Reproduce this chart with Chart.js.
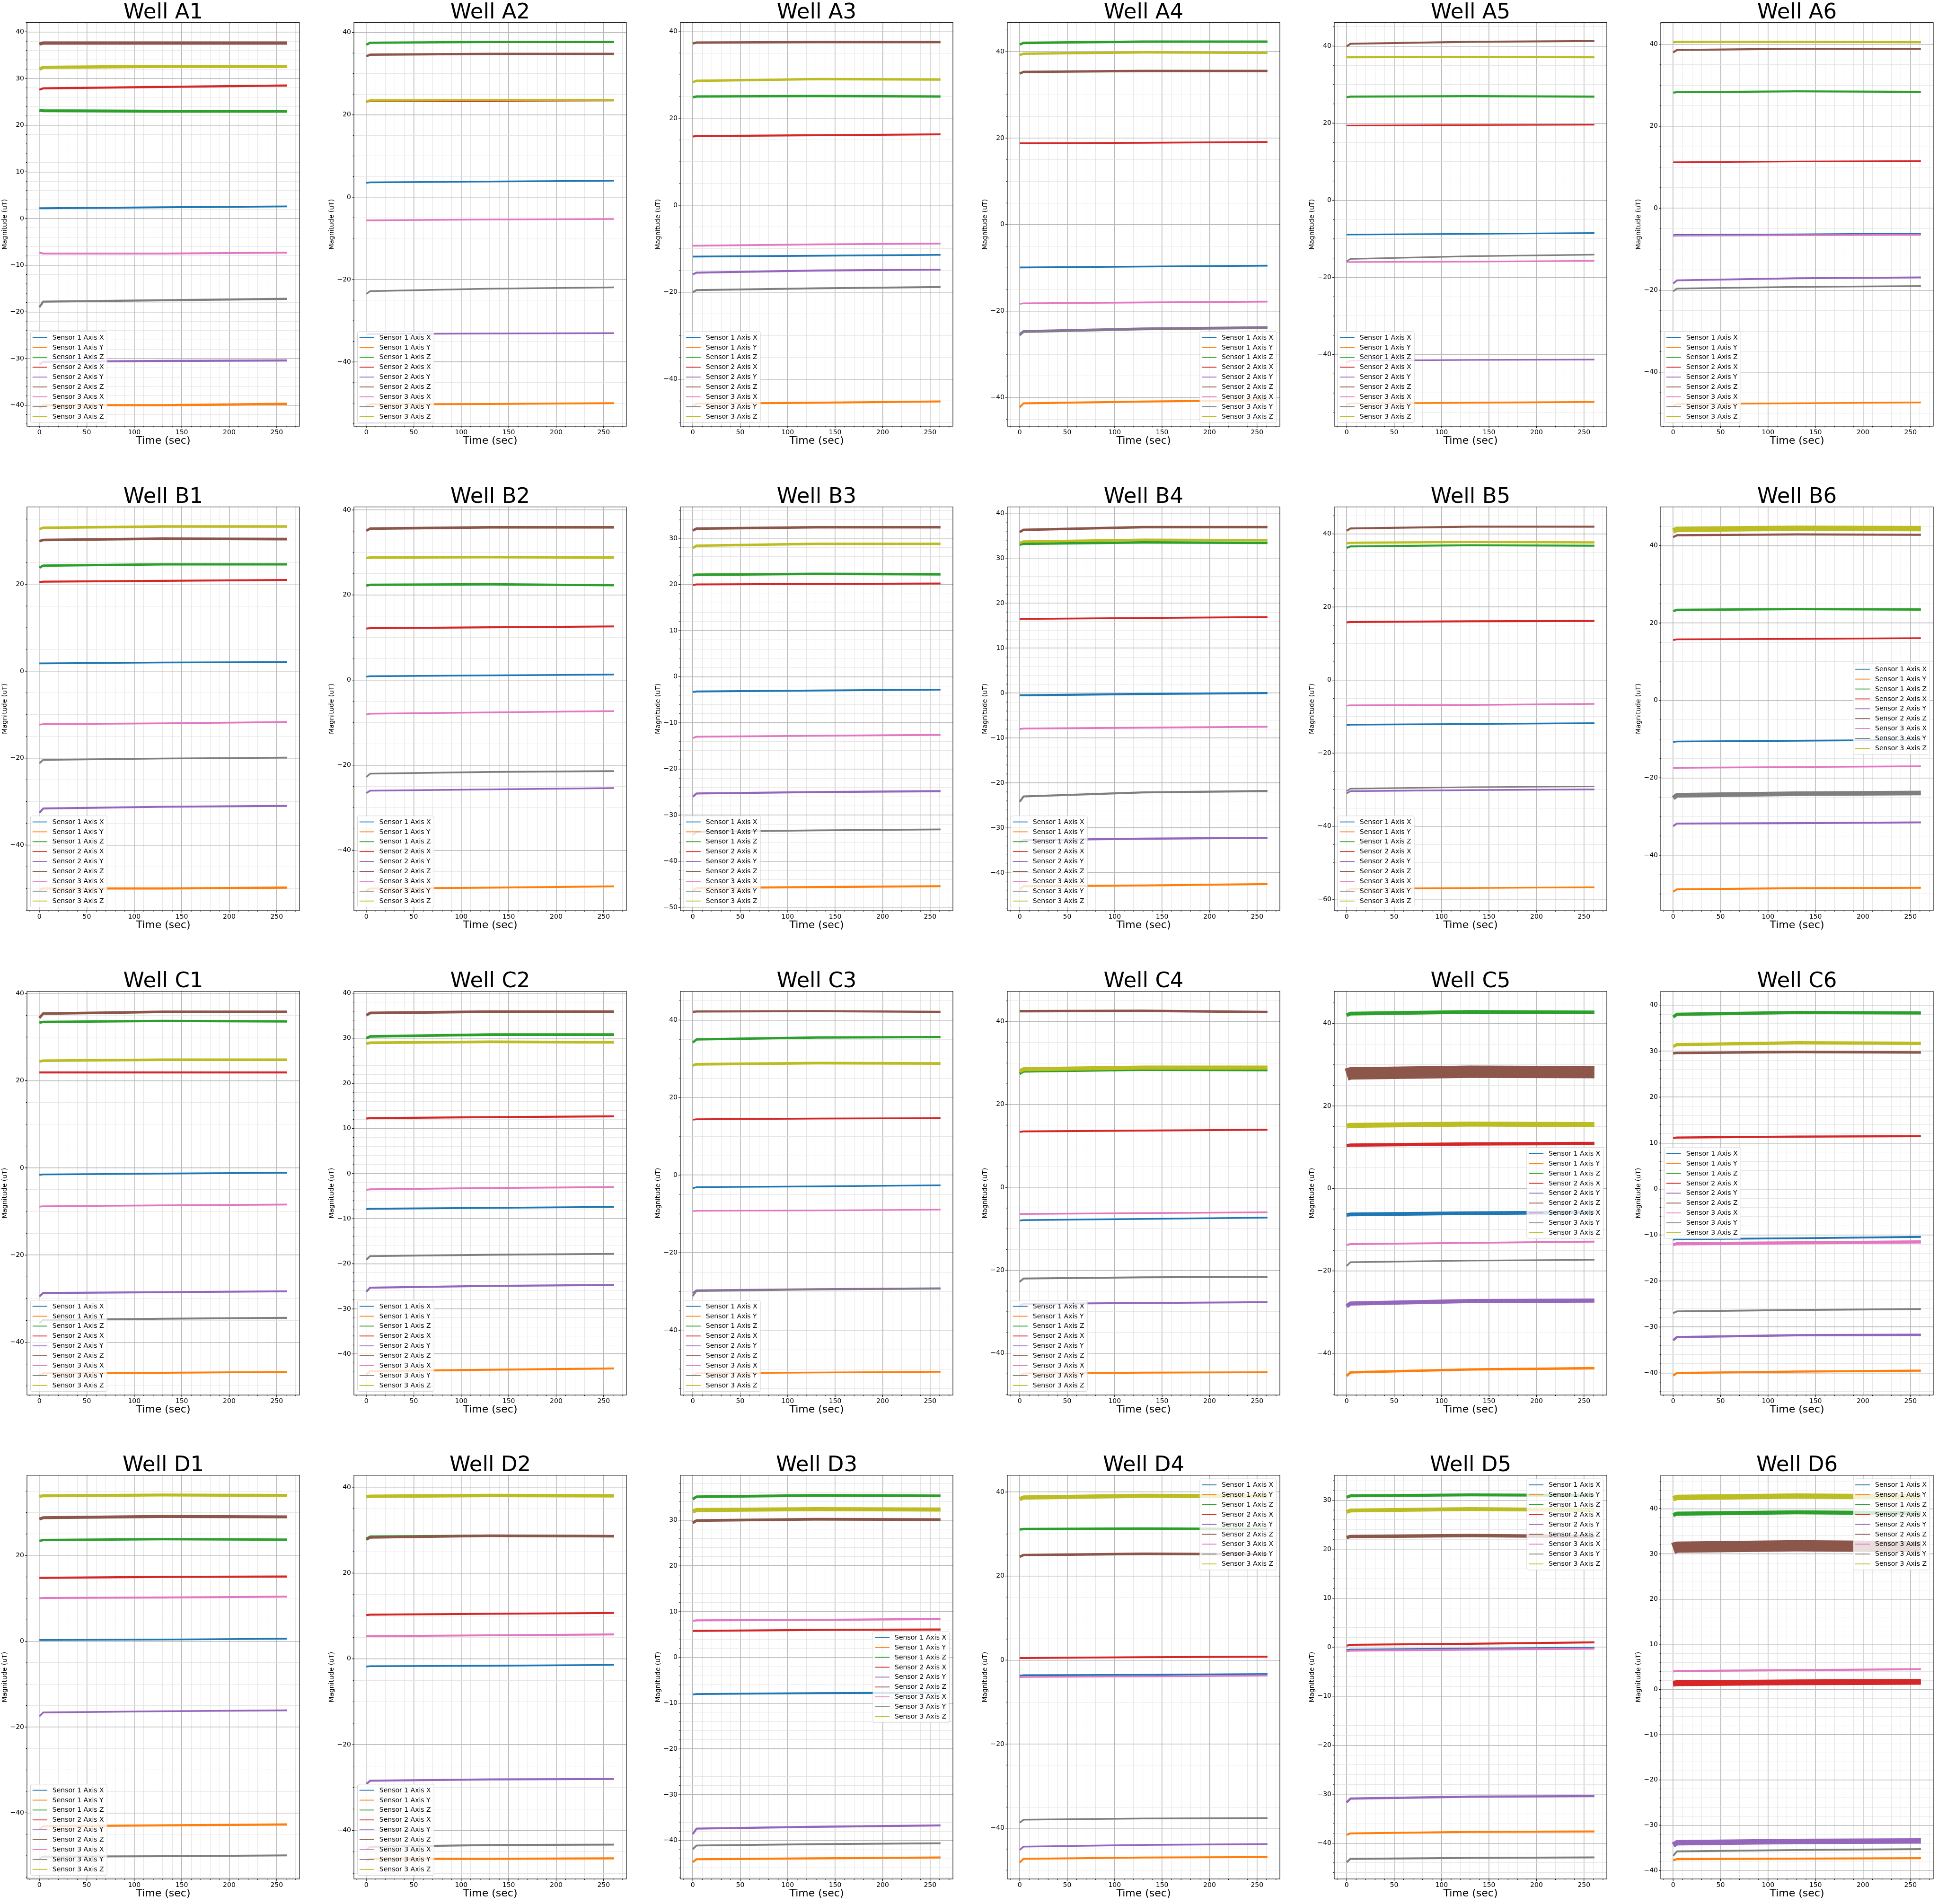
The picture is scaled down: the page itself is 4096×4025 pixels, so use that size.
<!DOCTYPE html>
<html><head><meta charset="utf-8">
<script src="https://cdn.jsdelivr.net/npm/chart.js@4.4.1/dist/chart.umd.min.js"></script>
<style>
html,body{margin:0;padding:0;background:#fff;}
body{width:4096px;height:4025px;position:relative;overflow:hidden;}
canvas{position:absolute;}
</style></head><body>
<script>
// ---------------- DATA ----------------
const seriesNames = ['Sensor 1 Axis X','Sensor 1 Axis Y','Sensor 1 Axis Z','Sensor 2 Axis X','Sensor 2 Axis Y','Sensor 2 Axis Z','Sensor 3 Axis X','Sensor 3 Axis Y','Sensor 3 Axis Z'];
const times = [0, 4, 130, 261];
const wellNames = ['A1','A2','A3','A4','A5','A6','B1','B2','B3','B4','B5','B6','C1','C2','C3','C4','C5','C6','D1','D2','D3','D4','D5','D6'];
const xTickLabels = [0, 50, 100, 150, 200, 250];

// magnitude (uT) at the times above; rows follow seriesNames
const A1 = [[2.2,2.2,2.4,2.6],[-40.6,-40.0,-40.0,-39.7],[23.2,23.1,23.0,23.0],[27.6,27.9,28.2,28.5],[-31.3,-30.7,-30.5,-30.4],[37.4,37.6,37.6,37.6],[-7.3,-7.5,-7.5,-7.3],[-19.0,-17.8,-17.5,-17.2],[32.0,32.4,32.6,32.6]];
const A2 = [[3.5,3.6,3.8,4.0],[-50.6,-50.3,-50.2,-50.0],[37.0,37.5,37.7,37.7],[23.2,23.3,23.4,23.5],[-33.3,-33.2,-33.1,-33.0],[34.2,34.6,34.8,34.8],[-5.6,-5.6,-5.4,-5.3],[-23.5,-22.8,-22.2,-21.9],[23.3,23.5,23.6,23.6]];
const A3 = [[-11.8,-11.8,-11.6,-11.4],[-46.2,-45.6,-45.4,-45.1],[24.8,25.0,25.1,25.0],[15.8,15.9,16.1,16.3],[-15.9,-15.5,-15.0,-14.8],[37.2,37.4,37.5,37.5],[-9.3,-9.3,-9.0,-8.8],[-20.0,-19.5,-19.1,-18.8],[28.3,28.6,29.0,28.9]];
const A4 = [[-9.9,-9.9,-9.7,-9.5],[-42.2,-41.3,-40.9,-40.6],[41.6,42.0,42.3,42.3],[18.8,18.8,18.9,19.1],[-25.3,-24.6,-24.0,-23.7],[34.9,35.3,35.5,35.5],[-18.3,-18.2,-18.0,-17.8],[-25.6,-24.8,-24.2,-23.9],[39.2,39.5,39.8,39.7]];
const A5 = [[-8.9,-8.9,-8.7,-8.5],[-53.0,-52.7,-52.5,-52.3],[26.7,26.9,27.0,26.9],[19.4,19.4,19.5,19.6],[-42.0,-41.6,-41.4,-41.3],[39.9,40.6,41.1,41.3],[-16.0,-16.0,-15.9,-15.7],[-15.8,-15.2,-14.5,-14.1],[37.1,37.1,37.2,37.1]];
const A6 = [[-6.6,-6.5,-6.4,-6.2],[-48.2,-47.8,-47.6,-47.4],[28.2,28.3,28.5,28.4],[11.2,11.2,11.4,11.5],[-18.4,-17.6,-17.1,-16.9],[38.0,38.6,38.9,38.9],[-6.8,-6.7,-6.6,-6.5],[-20.3,-19.6,-19.2,-19.0],[40.5,40.6,40.6,40.5]];
const B1 = [[1.8,1.8,2.0,2.1],[-50.3,-50.0,-50.0,-49.8],[23.8,24.3,24.6,24.6],[20.5,20.6,20.8,21.0],[-32.6,-31.6,-31.2,-31.0],[29.9,30.2,30.5,30.4],[-12.3,-12.2,-12.0,-11.7],[-21.2,-20.4,-20.1,-19.9],[32.7,33.0,33.3,33.3]];
const B2 = [[0.8,0.9,1.1,1.3],[-49.5,-49.0,-48.8,-48.5],[22.2,22.4,22.5,22.3],[12.1,12.2,12.4,12.6],[-26.6,-26.0,-25.7,-25.4],[35.1,35.6,35.9,35.9],[-8.1,-7.9,-7.6,-7.3],[-22.8,-22.0,-21.6,-21.4],[28.7,28.8,28.9,28.8]];
const B3 = [[-3.3,-3.2,-3.0,-2.8],[-46.3,-45.8,-45.6,-45.4],[22.0,22.1,22.3,22.2],[19.9,20.0,20.1,20.2],[-26.0,-25.3,-25.0,-24.8],[31.7,32.1,32.4,32.4],[-13.3,-13.0,-12.8,-12.6],[-34.3,-33.6,-33.3,-33.1],[27.9,28.4,28.8,28.8]];
const B4 = [[-0.5,-0.5,-0.2,0.0],[-43.6,-43.0,-42.8,-42.5],[33.0,33.2,33.5,33.4],[16.4,16.5,16.7,16.9],[-33.2,-32.7,-32.4,-32.2],[35.8,36.3,36.9,36.9],[-8.0,-7.9,-7.7,-7.5],[-24.2,-23.0,-22.1,-21.8],[33.4,33.7,34.1,34.0]];
const B5 = [[-12.3,-12.2,-12.0,-11.8],[-57.6,-57.1,-56.9,-56.7],[36.2,36.6,36.9,36.8],[15.8,15.9,16.1,16.2],[-31.0,-30.4,-30.1,-29.9],[40.9,41.5,42.0,42.0],[-7.0,-6.9,-6.8,-6.5],[-30.4,-29.7,-29.3,-29.1],[37.4,37.6,37.8,37.7]];
const B6 = [[-10.7,-10.6,-10.4,-10.2],[-49.4,-48.8,-48.5,-48.4],[23.1,23.4,23.6,23.5],[15.6,15.8,15.9,16.1],[-32.5,-31.8,-31.7,-31.5],[42.2,42.7,42.9,42.8],[-17.5,-17.4,-17.2,-17.0],[-25.2,-24.5,-24.1,-23.9],[43.8,44.2,44.5,44.4]];
const C1 = [[-1.6,-1.5,-1.3,-1.1],[-47.6,-47.1,-47.0,-46.8],[33.3,33.5,33.7,33.6],[21.9,21.9,21.9,21.9],[-29.5,-28.7,-28.5,-28.3],[34.4,35.4,35.8,35.8],[-8.9,-8.8,-8.6,-8.4],[-35.6,-34.9,-34.6,-34.4],[24.4,24.6,24.8,24.8]];
const C2 = [[-7.9,-7.8,-7.6,-7.4],[-44.6,-43.8,-43.5,-43.2],[30.0,30.4,30.8,30.8],[12.2,12.3,12.5,12.7],[-26.2,-25.3,-24.9,-24.7],[35.1,35.6,35.9,35.9],[-3.6,-3.5,-3.2,-3.0],[-19.1,-18.3,-18.0,-17.8],[28.8,29.0,29.2,29.1]];
const C3 = [[-3.4,-3.1,-2.9,-2.6],[-51.7,-51.1,-50.9,-50.7],[34.2,35.0,35.5,35.6],[14.3,14.4,14.6,14.7],[-30.4,-29.7,-29.4,-29.2],[42.1,42.2,42.3,42.1],[-9.3,-9.2,-9.1,-8.9],[-31.2,-29.9,-29.5,-29.3],[28.3,28.6,28.9,28.8]];
const C4 = [[-8.0,-7.9,-7.6,-7.3],[-45.4,-44.9,-44.7,-44.6],[27.4,28.0,28.4,28.3],[13.4,13.5,13.7,13.9],[-28.6,-28.1,-27.9,-27.7],[42.5,42.5,42.6,42.3],[-6.4,-6.4,-6.2,-6.0],[-22.8,-22.0,-21.7,-21.6],[28.0,28.5,28.9,28.9]];
const C5 = [[-6.4,-6.3,-6.0,-5.8],[-45.5,-44.6,-43.9,-43.6],[42.0,42.4,42.8,42.7],[10.4,10.5,10.8,10.9],[-28.6,-27.9,-27.3,-27.2],[27.6,27.9,28.3,28.2],[-13.7,-13.5,-13.2,-12.9],[-18.8,-17.9,-17.5,-17.3],[15.1,15.3,15.6,15.5]];
const C6 = [[-11.0,-10.9,-10.7,-10.4],[-40.6,-40.0,-39.7,-39.5],[37.4,38.0,38.4,38.3],[11.1,11.2,11.4,11.5],[-32.9,-32.2,-31.8,-31.7],[29.5,29.6,29.8,29.7],[-12.1,-11.9,-11.7,-11.5],[-27.0,-26.6,-26.3,-26.1],[31.0,31.4,31.8,31.7]];
const D1 = [[0.3,0.3,0.4,0.6],[-43.8,-43.1,-42.9,-42.7],[23.4,23.6,23.8,23.7],[14.8,14.8,15.0,15.1],[-17.5,-16.6,-16.3,-16.1],[28.5,28.8,29.1,29.0],[10.0,10.1,10.2,10.4],[-50.6,-50.2,-50.1,-49.9],[33.8,33.9,34.1,34.0]];
const D2 = [[-1.8,-1.7,-1.6,-1.4],[-47.0,-46.6,-46.6,-46.5],[28.0,28.5,28.7,28.6],[10.2,10.3,10.5,10.7],[-29.2,-28.4,-28.1,-28.0],[27.8,28.3,28.7,28.6],[5.3,5.3,5.5,5.7],[-44.5,-43.8,-43.4,-43.3],[37.8,37.9,38.1,38.0]];
const D3 = [[-8.1,-8.0,-7.8,-7.7],[-44.7,-44.1,-43.9,-43.7],[34.6,35.1,35.4,35.3],[5.8,5.8,6.0,6.1],[-38.6,-37.4,-37.0,-36.7],[29.4,29.9,30.2,30.1],[8.0,8.1,8.2,8.4],[-41.9,-41.1,-40.8,-40.6],[31.9,32.2,32.4,32.3]];
const D4 = [[-3.7,-3.6,-3.5,-3.3],[-48.2,-47.3,-47.0,-46.9],[31.1,31.2,31.3,31.2],[0.5,0.5,0.7,0.8],[-45.2,-44.4,-44.0,-43.8],[24.6,25.0,25.3,25.2],[-4.1,-4.0,-3.9,-3.7],[-38.7,-38.0,-37.7,-37.6],[38.3,38.7,39.1,39.0]];
const D5 = [[-0.6,-0.5,-0.3,-0.1],[-38.3,-38.0,-37.7,-37.6],[30.6,30.9,31.1,31.0],[0.3,0.5,0.7,1.0],[-31.7,-30.9,-30.5,-30.4],[22.4,22.6,22.8,22.6],[-0.8,-0.7,-0.5,-0.3],[-43.9,-43.2,-43.0,-42.9],[27.6,27.9,28.2,28.0]];
const D6 = [[1.2,1.3,1.5,1.6],[-37.8,-37.5,-37.4,-37.3],[38.6,38.9,39.2,39.0],[1.3,1.4,1.6,1.7],[-34.4,-33.9,-33.6,-33.5],[31.2,31.5,31.8,31.6],[4.0,4.1,4.3,4.5],[-36.8,-35.8,-35.5,-35.3],[42.2,42.5,42.8,42.6]];

// noise band (peak-to-peak spread, uT) of each trace
const A1n = [0.4,0.5,0.65,0.45,0.45,0.7,0.4,0.45,0.7];
const A2n = [0.4,0.45,0.55,0.45,0.4,0.55,0.4,0.4,0.55];
const A3n = [0.4,0.45,0.55,0.45,0.45,0.55,0.4,0.45,0.55];
const A4n = [0.4,0.45,0.55,0.4,0.45,0.55,0.4,0.45,0.55];
const A5n = [0.4,0.45,0.55,0.4,0.4,0.5,0.4,0.4,0.55];
const A6n = [0.4,0.4,0.5,0.4,0.45,0.5,0.4,0.4,0.55];
const B1n = [0.4,0.5,0.55,0.45,0.45,0.6,0.4,0.4,0.6];
const B2n = [0.4,0.45,0.55,0.45,0.4,0.6,0.4,0.4,0.6];
const B3n = [0.4,0.45,0.55,0.4,0.45,0.55,0.4,0.4,0.55];
const B4n = [0.45,0.45,0.55,0.4,0.45,0.55,0.4,0.45,0.55];
const B5n = [0.45,0.45,0.55,0.55,0.45,0.55,0.45,0.4,0.6];
const B6n = [0.45,0.5,0.6,0.45,0.5,0.55,0.45,1.2,1.4];
const C1n = [0.4,0.45,0.55,0.45,0.45,0.6,0.4,0.45,0.6];
const C2n = [0.4,0.45,0.6,0.45,0.45,0.6,0.4,0.4,0.6];
const C3n = [0.4,0.45,0.6,0.45,0.5,0.55,0.4,0.4,0.7];
const C4n = [0.4,0.45,0.6,0.45,0.45,0.6,0.4,0.45,1.0];
const C5n = [0.9,0.6,0.9,0.8,1.0,3.0,0.45,0.4,1.2];
const C6n = [0.4,0.45,0.7,0.45,0.5,0.55,0.7,0.4,0.7];
const D1n = [0.4,0.5,0.55,0.5,0.4,0.7,0.45,0.45,0.7];
const D2n = [0.4,0.5,0.55,0.45,0.45,0.6,0.45,0.45,0.8];
const D3n = [0.4,0.45,0.6,0.45,0.45,0.6,0.45,0.4,0.9];
const D4n = [0.4,0.45,0.6,0.45,0.4,0.6,0.4,0.4,1.0];
const D5n = [0.4,0.4,0.6,0.4,0.45,0.7,0.4,0.4,0.8];
const D6n = [0.4,0.45,0.9,1.3,1.2,2.5,0.45,0.4,1.2];

// y-axis limits and major tick step per well
const yMin = [-44.5,-55.6,-50.8,-46.6,-58.6,-53.2, -55.1,-54.2,-50.7,-48.4,-63.1,-54.3, -52.1,-49.1,-56.7,-50.1,-50.1,-44.8, -55.4,-51.3,-48.4,-52.1,-47.3,-41.9];
const yMax = [42.0,42.4,42.0,46.7,46.1,45.3, 37.8,40.7,36.8,41.4,47.4,50.0, 40.5,40.4,47.4,47.3,47.8,43.0, 38.7,42.8,39.8,44.0,35.1,47.4];
const yStep = [10,20,20,20,20,20, 20,20,10,10,20,20, 20,10,20,20,20,10, 20,20,10,20,10,10];
const legendLoc = ['ll','ll','ll','lr','ll','ll', 'll','ll','ll','ll','ll','cr', 'll','ll','ll','ll','cr','cl', 'll','ll','cr','ur','ur','ur'];

// built lookup tables
const wellValues = {A1,A2,A3,A4,A5,A6,B1,B2,B3,B4,B5,B6,C1,C2,C3,C4,C5,C6,D1,D2,D3,D4,D5,D6};
const wellNoise = {A1:A1n,A2:A2n,A3:A3n,A4:A4n,A5:A5n,A6:A6n,B1:B1n,B2:B2n,B3:B3n,B4:B4n,B5:B5n,B6:B6n,C1:C1n,C2:C2n,C3:C3n,C4:C4n,C5:C5n,C6:C6n,D1:D1n,D2:D2n,D3:D3n,D4:D4n,D5:D5n,D6:D6n};

// ---------------- STYLE / LAYOUT ----------------
const COLORS = ['#1f77b4','#ff7f0e','#2ca02c','#d62728','#9467bd','#8c564b','#e377c2','#7f7f7f','#bcbd22'];
const FONT = "'DejaVu Sans', sans-serif";
const COL_PITCH = 690.65, ROW_PITCH = 1023.8;
const AREA_LEFT = 57, AREA_TOP = 47.65, AREA_W = 576, AREA_H = 853.4;
const XAXIS_H = 44, CANVAS_H = 953;
const X_MIN = -13.05, X_MAX = 274.05;
const MAJ_GRID = '#b8b8b8', MIN_GRID = '#e0e0e0';

Chart.defaults.font.family = FONT;
Chart.defaults.color = '#000';

function isMult(v, step){ return Math.abs(v/step - Math.round(v/step)) < 1e-6; }
function fmt(v){ const r = Math.round(v); return r < 0 ? '\u2212' + Math.abs(r) : String(r); }
function tickList(min, max, step){
  const out = [];
  for (let k = Math.ceil(min/step - 1e-9); k*step <= max + 1e-9; k++) out.push({value: Math.round(k*step*1000)/1000});
  return out;
}

const mplPlugin = {
  id: 'mpl',
  afterDatasetsDraw(chart, args, o) {
    const ctx = chart.ctx, a = chart.chartArea;
    const xs = chart.scales.x, ys = chart.scales.y;
    ctx.save();
    // spines
    ctx.strokeStyle = '#000'; ctx.lineWidth = 1.1;
    ctx.strokeRect(a.left, a.top, a.right - a.left, a.bottom - a.top);
    // tick marks
    ctx.beginPath();
    ys.ticks.forEach(t => {
      const p = ys.getPixelForValue(t.value);
      const L = isMult(t.value, o.yMajor) ? 4 : 2.2;
      ctx.moveTo(a.left - L, p); ctx.lineTo(a.left, p);
    });
    xs.ticks.forEach(t => {
      const p = xs.getPixelForValue(t.value);
      const L = isMult(t.value, 50) ? 4 : 2.2;
      ctx.moveTo(p, a.bottom); ctx.lineTo(p, a.bottom + L);
    });
    ctx.stroke();
    // title
    ctx.fillStyle = '#000';
    ctx.font = '45px ' + FONT;
    ctx.textAlign = 'center'; ctx.textBaseline = 'alphabetic';
    ctx.fillText(o.title, (a.left + a.right) / 2, a.top - 8.4);
    // legend
    ctx.font = '14px ' + FONT;
    const tw = Math.max(...seriesNames.map(n => ctx.measureText(n).width));
    const w = 46.3 + tw + 6.5, h = 192.8, pad = 7.5;
    const cy = (a.top + a.bottom) / 2;
    let x, y;
    if (o.loc === 'll') { x = a.left + pad; y = a.bottom - pad - h; }
    else if (o.loc === 'lr') { x = a.right - pad - w; y = a.bottom - pad - h; }
    else if (o.loc === 'ur') { x = a.right - pad - w; y = a.top + pad; }
    else if (o.loc === 'cr') { x = a.right - pad - w; y = cy - h / 2; }
    else { x = a.left + pad; y = cy - h / 2; }
    ctx.beginPath();
    if (ctx.roundRect) ctx.roundRect(x, y, w, h, 3); else ctx.rect(x, y, w, h);
    ctx.fillStyle = 'rgba(255,255,255,0.8)'; ctx.fill();
    ctx.strokeStyle = 'rgba(204,204,204,0.8)'; ctx.lineWidth = 1; ctx.stroke();
    ctx.textAlign = 'left'; ctx.textBaseline = 'middle';
    seriesNames.forEach((n, i) => {
      const ry = y + 12.8 + i * 20.9;
      ctx.strokeStyle = COLORS[i]; ctx.lineWidth = 1.8;
      ctx.beginPath(); ctx.moveTo(x + 4.3, ry); ctx.lineTo(x + 35.3, ry); ctx.stroke();
      ctx.fillStyle = '#000';
      ctx.fillText(n, x + 46.3, ry + 0.5);
    });
    ctx.restore();
  }
};

wellNames.forEach((name, wi) => {
  const r = Math.floor(wi / 6), c = wi % 6;
  const left = Math.round(c * COL_PITCH), top = Math.round(r * ROW_PITCH);
  const W = Math.min(690, 4096 - left), H = Math.min(CANVAS_H, 4025 - top);
  const cv = document.createElement('canvas');
  cv.width = W; cv.height = H;
  cv.style.left = left + 'px'; cv.style.top = top + 'px';
  cv.style.width = W + 'px'; cv.style.height = H + 'px';
  document.body.appendChild(cv);

  const vals = wellValues[name], noise = wellNoise[name];
  const yMajor = yStep[wi], yMinor = yMajor === 10 ? 2 : 5;
  const ymn = yMin[wi], ymx = yMax[wi];

  new Chart(cv, {
    type: 'line',
    data: {
      datasets: seriesNames.map((sn, i) => ({
        label: sn,
        data: times.map((t, k) => ({x: t, y: vals[i][k]})),
        borderColor: COLORS[i],
        backgroundColor: COLORS[i],
        borderWidth: (cx) => {
          const s = cx.chart.scales && cx.chart.scales.y;
          if (!s || !isFinite(s.getPixelForValue(0))) return 3;
          return Math.max(3, Math.abs(s.getPixelForValue(0) - s.getPixelForValue(noise[i])));
        },
        pointRadius: 0, pointHoverRadius: 0, tension: 0, fill: false,
        borderCapStyle: 'butt', borderJoinStyle: 'round',
        order: 8 - i
      }))
    },
    options: {
      responsive: false, animation: false, devicePixelRatio: 1,
      events: [],
      layout: { padding: { left: 0, top: AREA_TOP, right: W - AREA_LEFT - AREA_W, bottom: H - AREA_TOP - AREA_H - XAXIS_H } },
      plugins: {
        legend: { display: false }, tooltip: { enabled: false }, title: { display: false },
        mpl: { title: 'Well ' + name, loc: legendLoc[wi], yMajor: yMajor }
      },
      scales: {
        x: {
          type: 'linear', min: X_MIN, max: X_MAX,
          afterBuildTicks: s => { s.ticks = tickList(X_MIN, X_MAX, 10); },
          afterFit: s => { s.height = XAXIS_H; },
          ticks: { autoSkip: false, maxRotation: 0, minRotation: 0, padding: 5, color: '#000', font: { size: 14 },
            callback: v => (isMult(v, 50) && xTickLabels.includes(Math.round(v))) ? fmt(v) : '' },
          grid: { drawTicks: false,
            color: cx => (cx.tick && isMult(cx.tick.value, 50)) ? MAJ_GRID : MIN_GRID,
            lineWidth: cx => (cx.tick && isMult(cx.tick.value, 50)) ? 1.6 : 0.8 },
          border: { display: false },
          title: { display: true, text: 'Time (sec)', color: '#000', font: { size: 22 }, padding: { top: 0, bottom: 0 } }
        },
        y: {
          type: 'linear', min: ymn, max: ymx,
          afterBuildTicks: s => { s.ticks = tickList(ymn, ymx, yMinor); },
          afterFit: s => { s.width = AREA_LEFT; },
          ticks: { autoSkip: false, padding: 6, color: '#000', font: { size: 14 },
            callback: v => isMult(v, yMajor) ? fmt(v) : '' },
          grid: { drawTicks: false,
            color: cx => (cx.tick && isMult(cx.tick.value, yMajor)) ? MAJ_GRID : MIN_GRID,
            lineWidth: cx => (cx.tick && isMult(cx.tick.value, yMajor)) ? 1.6 : 0.8 },
          border: { display: false },
          title: { display: true, text: 'Magnitude (uT)', color: '#000', font: { size: 14 }, padding: { top: 2, bottom: 0 } }
        }
      }
    },
    plugins: [mplPlugin]
  });
});
</script>
</body></html>
